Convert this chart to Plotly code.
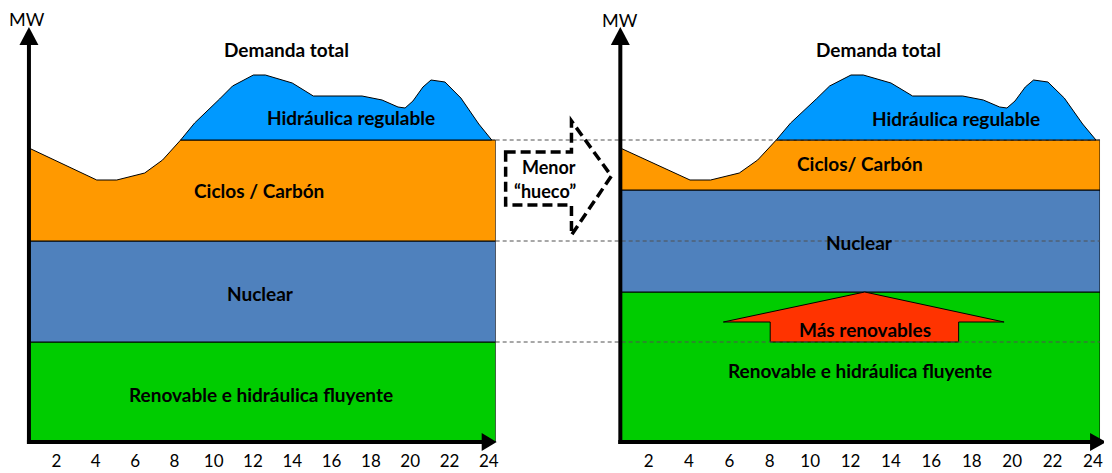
import plotly.graph_objects as go

# ---------------- data (hours, GW-like units) ----------------
horas = [0.6, 4.05, 5.07, 6.49, 7.4, 8.32, 9.03, 10.3, 10.96, 12.02, 12.63, 14.0, 15.07,
         17.55, 18.57, 19.38, 19.74, 20.14, 20.65, 21.06, 21.77, 22.58, 23.49, 24.15]
demanda = [29.4, 26.2, 26.2, 26.9, 28.2, 30.2, 31.9, 34.3, 35.6, 36.7, 36.7, 35.9, 34.6,
           34.6, 34.2, 33.5, 33.4, 34.1, 35.5, 36.2, 36.0, 34.4, 31.8, 30.2]
hora_fin = 24.35
tick_horas = [2, 4, 6, 8, 10, 12, 14, 16, 18, 20, 22, 24]

# stacked levels: [renovable top, nuclear top, base hidráulica regulable]
niveles_antes = [10.0, 20.1, 30.2]
niveles_despues = [15.0, 25.2, 30.2]

# "Más renovables" arrow (hours / levels)
flecha_x = [12.7, 19.6, 17.35, 17.35, 8.02, 8.02, 5.7, 12.7]
flecha_y = [15.0, 12.0, 12.0, 10.0, 10.0, 12.0, 12.0, 15.0]

C_HID = "#0099FF"
C_CIC = "#FF9900"
C_NUC = "#4F81BD"
C_REN = "#00CC00"
C_RED = "#FF3300"
FONT = "Lato"

OFF = 8  # page body margin
W, H = 1112 - OFF, 473 - OFF
def px(x):
    return (x - OFF) / W
def py(y):
    return 1 - (y - OFF) / H

fig = go.Figure()

def add_panel(xa, ya, niveles):
    ren, nuc, base = niveles
    x0 = horas[0]
    line = dict(color="black", width=1)
    common = dict(xaxis=xa, yaxis=ya, mode="lines", fill="toself", line=line,
                  hoverinfo="skip", showlegend=False)
    fig.add_trace(go.Scatter(x=[x0, x0, hora_fin, hora_fin, x0], y=[0, ren, ren, 0, 0],
                             fillcolor=C_REN, **common))
    fig.add_trace(go.Scatter(x=[x0, x0, hora_fin, hora_fin, x0], y=[ren, nuc, nuc, ren, ren],
                             fillcolor=C_NUC, **common))
    top = [min(d, base) for d in demanda]
    fig.add_trace(go.Scatter(x=[x0] + horas + [hora_fin, hora_fin, x0],
                             y=[nuc] + top + [base, nuc, nuc],
                             fillcolor=C_CIC, **common))
    hx = [h for h, d in zip(horas, demanda) if d >= base and h >= 8]
    hy = [d for h, d in zip(horas, demanda) if d >= base and h >= 8]
    fig.add_trace(go.Scatter(x=hx + [hx[0]], y=hy + [hy[0]], fillcolor=C_HID, **common))

add_panel("x", "y", niveles_antes)
add_panel("x2", "y2", niveles_despues)

fig.add_trace(go.Scatter(x=flecha_x, y=flecha_y, xaxis="x2", yaxis="y2", mode="lines",
                         fill="toself", fillcolor=C_RED, line=dict(color="black", width=1),
                         hoverinfo="skip", showlegend=False))

xr = [horas[0], hora_fin]
yr = [0, 41.4]
ydom = [py(442), py(28)]
xcommon = dict(range=xr, tickvals=tick_horas, showgrid=False, zeroline=False, showline=False,
               ticks="outside", ticklen=4, tickcolor="rgba(0,0,0,0)",
               tickfont=dict(family=FONT, size=17, color="black"), fixedrange=True)
ycommon = dict(range=yr, domain=ydom, showgrid=False, zeroline=False, showline=False,
               showticklabels=False, fixedrange=True)

fig.update_layout(
    width=W, height=H, margin=dict(l=0, r=0, t=0, b=0),
    paper_bgcolor="white", plot_bgcolor="white",
    xaxis=dict(domain=[px(29), px(497)], anchor="y", **xcommon),
    yaxis=dict(anchor="x", **ycommon),
    xaxis2=dict(domain=[px(622), px(1103)], anchor="y2", **xcommon),
    yaxis2=dict(anchor="x2", **ycommon),
)

shapes = []
# dashed guide lines
for yv in niveles_antes[::-1]:
    shapes.append(dict(type="line", xref="paper", yref="y", x0=px(497), x1=px(1103), y0=yv, y1=yv,
                       line=dict(color="#505050", width=1, dash="4px,3px"), layer="above"))

# axes with arrows
for ax_x, x_end, tip in [(29, 484, 498), (622, 1094, 1109)]:
    shapes.append(dict(type="line", xref="paper", yref="paper", x0=px(ax_x), x1=px(ax_x),
                       y0=py(444), y1=py(44), line=dict(color="black", width=4), layer="above"))
    shapes.append(dict(type="path", xref="paper", yref="paper", layer="above",
                       path=f"M {px(ax_x-9.5)},{py(45)} L {px(ax_x+9.5)},{py(45)} L {px(ax_x)},{py(27)} Z",
                       fillcolor="black", line=dict(color="black", width=0)))
    shapes.append(dict(type="line", xref="paper", yref="paper", x0=px(ax_x - 2), x1=px(x_end),
                       y0=py(442), y1=py(442), line=dict(color="black", width=4), layer="above"))
    shapes.append(dict(type="path", xref="paper", yref="paper", layer="above",
                       path=f"M {px(x_end-1)},{py(433)} L {px(x_end-1)},{py(451)} L {px(tip)},{py(442)} Z",
                       fillcolor="black", line=dict(color="black", width=0)))

# dashed "Menor hueco" arrow
pts = [(507, 152), (573, 152), (573, 121), (613, 176), (573, 235), (573, 205), (507, 205)]
path = "M " + " L ".join(f"{px(a)},{py(b)}" for a, b in pts) + " Z"
shapes.append(dict(type="path", xref="paper", yref="paper", path=path, layer="above",
                   line=dict(color="black", width=3.5, dash="10px,5px")))
fig.update_layout(shapes=shapes)

ann = []
def label(text, x, y, xref, yref, size=19, bold=True):
    t = f"<b>{text}</b>" if bold else text
    ann.append(dict(text=t, x=x, y=y, xref=xref, yref=yref, showarrow=False,
                    xanchor="center", yanchor="middle",
                    font=dict(family=FONT, size=size, color="black")))

label("Demanda total", 13.7, 39.2, "x", "y")
label("Hidráulica regulable", 17.0, 32.4, "x", "y")
label("Ciclos / Carbón", 12.3, 25.1, "x", "y")
label("Nuclear", 12.4, 14.9, "x", "y")
label("Renovable e hidráulica fluyente", 12.4, 4.8, "x", "y")

label("Demanda total", 13.4, 39.2, "x2", "y2")
label("Hidráulica regulable", 17.2, 32.3, "x2", "y2")
label("Ciclos/ Carbón", 12.45, 27.8, "x2", "y2")
label("Nuclear", 12.45, 19.9, "x2", "y2")
label("Renovable e hidráulica fluyente", 12.45, 7.2, "x2", "y2")
label("Más renovables", 12.7, 11.3, "x2", "y2")

label("Menor", px(550), py(167), "paper", "paper", size=18)
label("“hueco”", px(546), py(191), "paper", "paper", size=18)
label("MW", px(27), py(19), "paper", "paper", size=18, bold=False)
label("MW", px(622), py(20), "paper", "paper", size=18, bold=False)
fig.update_layout(annotations=ann)

fig.write_html("out.html")
